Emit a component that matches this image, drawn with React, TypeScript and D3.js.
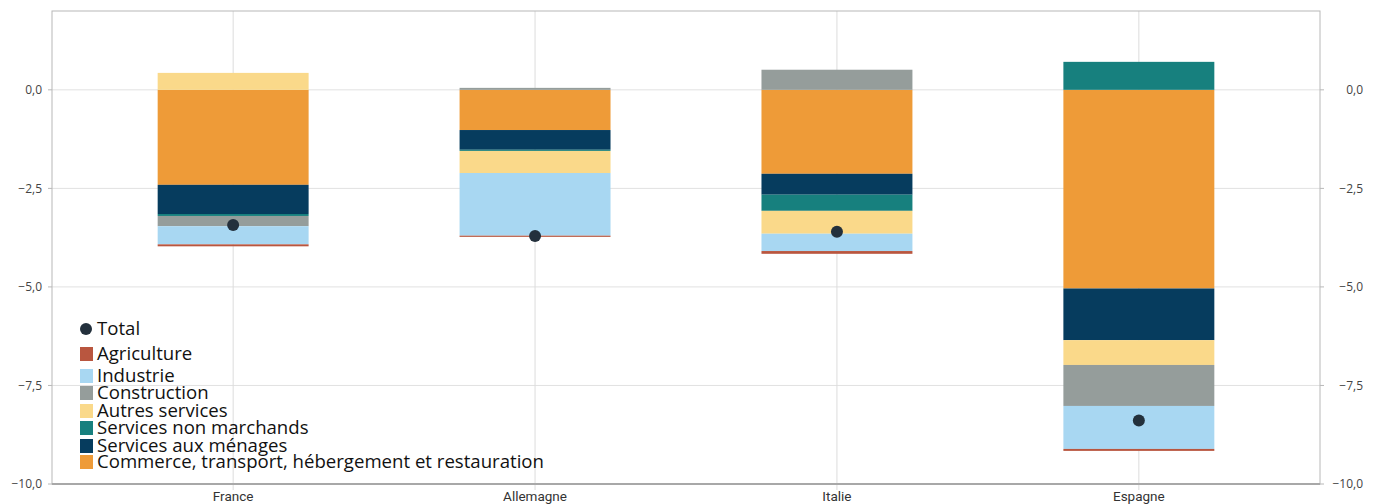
import React from "react";
import * as d3 from "d3";

const countries = ["France", "Allemagne", "Italie", "Espagne"];
const agriculture = [-0.05, -0.03, -0.07, -0.05];
const industrie = [-0.46, -1.59, -0.44, -1.09];
const construction = [-0.26, 0.05, 0.51, -1.04];
const autresServices = [0.43, -0.56, -0.58, -0.63];
const servicesNonMarchands = [-0.05, -0.03, -0.41, 0.71];
const servicesMenages = [-0.74, -0.5, -0.53, -1.31];
const commerce = [-2.41, -1.02, -2.13, -5.04];
const total = [-3.43, -3.71, -3.6, -8.39];
const yTicks = [0, -2.5, -5, -7.5, -10];

const seriesNames = [
  "Agriculture",
  "Industrie",
  "Construction",
  "Autres services",
  "Services non marchands",
  "Services aux ménages",
  "Commerce, transport, hébergement et restauration",
];
const seriesColors = ["#b9563f", "#a8d7f2", "#959d9b", "#fad98a", "#17807e", "#063c5e", "#ee9b38"];
const seriesValues = [agriculture, industrie, construction, autresServices, servicesNonMarchands, servicesMenages, commerce];

const W = 1384;
const H = 504;
const M = { left: 52, right: 1320, top: 11, bottom: 484 };

export default function App() {
  const x = d3.scaleBand<string>().domain(countries).range([M.left, M.right]).paddingInner(0.5).paddingOuter(0.35);
  const y = d3.scaleLinear().domain([-10, 2]).range([M.bottom, M.top]);

  const rows = countries.map((c, i) => {
    const r: any = { country: c };
    seriesNames.forEach((s, j) => (r[s] = seriesValues[j][i]));
    return r;
  });
  const stackKeys = [...seriesNames].reverse();
  const stacked = d3.stack<any>().keys(stackKeys).offset(d3.stackOffsetDiverging)(rows);
  const fmt = (v: number) => d3.format(".1f")(v).replace(".", ",").replace("-", "\u2212");
  const tickFont = "'Open Sans', sans-serif";

  return (
    <svg width={W} height={H} style={{ position: "absolute", left: 0, top: 0, background: "#fff" }}>
      {yTicks.map((t) => (
        <line key={"g" + t} x1={M.left} x2={M.right} y1={y(t)} y2={y(t)} stroke="#e1e1e1" strokeWidth={1} />
      ))}
      {countries.map((c) => (
        <line key={"v" + c} x1={x(c)! + x.bandwidth() / 2} x2={x(c)! + x.bandwidth() / 2} y1={M.top} y2={M.bottom + 6} stroke="#dcdcdc" strokeWidth={1} />
      ))}
      {stacked.map((s) => {
        const color = seriesColors[seriesNames.indexOf(s.key)];
        return (
          <g key={s.key} fill={color}>
            {s.map((d, i) => (
              <rect key={i} x={x(countries[i])} width={x.bandwidth()} y={y(Math.max(d[0], d[1]))} height={Math.abs(y(d[0]) - y(d[1]))} />
            ))}
          </g>
        );
      })}
      {total.map((v, i) => (
        <circle key={"t" + i} cx={x(countries[i])! + x.bandwidth() / 2} cy={y(v)} r={6} fill="#23303c" />
      ))}
      <rect x={M.left} y={M.top} width={M.right - M.left} height={M.bottom - M.top} fill="none" stroke="#b8b8b8" strokeWidth={1} />
      <line x1={M.left} x2={M.right} y1={M.bottom} y2={M.bottom} stroke="#a8a8a8" strokeWidth={2} />
      {yTicks.map((t) => (
        <g key={"l" + t}>
          <line x1={M.left - 4} x2={M.left} y1={y(t)} y2={y(t)} stroke="#b8b8b8" />
          <text x={42} y={y(t)} dy="0.35em" textAnchor="end" fontSize={12} fill="#444" fontFamily={tickFont}>
            {fmt(t)}
          </text>
          <line x1={M.right} x2={M.right + 4} y1={y(t)} y2={y(t)} stroke="#b8b8b8" />
          <text x={1363} y={y(t)} dy="0.35em" textAnchor="end" fontSize={12} fill="#444" fontFamily={tickFont}>
            {fmt(t)}
          </text>
        </g>
      ))}
      {countries.map((c) => (
        <text key={"c" + c} x={x(c)! + x.bandwidth() / 2} y={501} textAnchor="middle" fontSize={13.5} fill="#333" fontFamily="'Roboto', sans-serif">
          {c}
        </text>
      ))}
      <g fontFamily="'Open Sans', sans-serif" fontSize={18.6} fill="#111">
        <circle cx={86} cy={329} r={6} fill="#23303c" />
        <text x={97} y={335}>Total</text>
        {seriesNames.map((s, j) => {
          const base = [360, 382, 399, 417, 434, 452, 468][j];
          return (
            <g key={"lg" + s}>
              <rect x={80} y={base - 13} width={13} height={14} fill={seriesColors[j]} />
              <text x={97} y={base}>{s}</text>
            </g>
          );
        })}
      </g>
    </svg>
  );
}
